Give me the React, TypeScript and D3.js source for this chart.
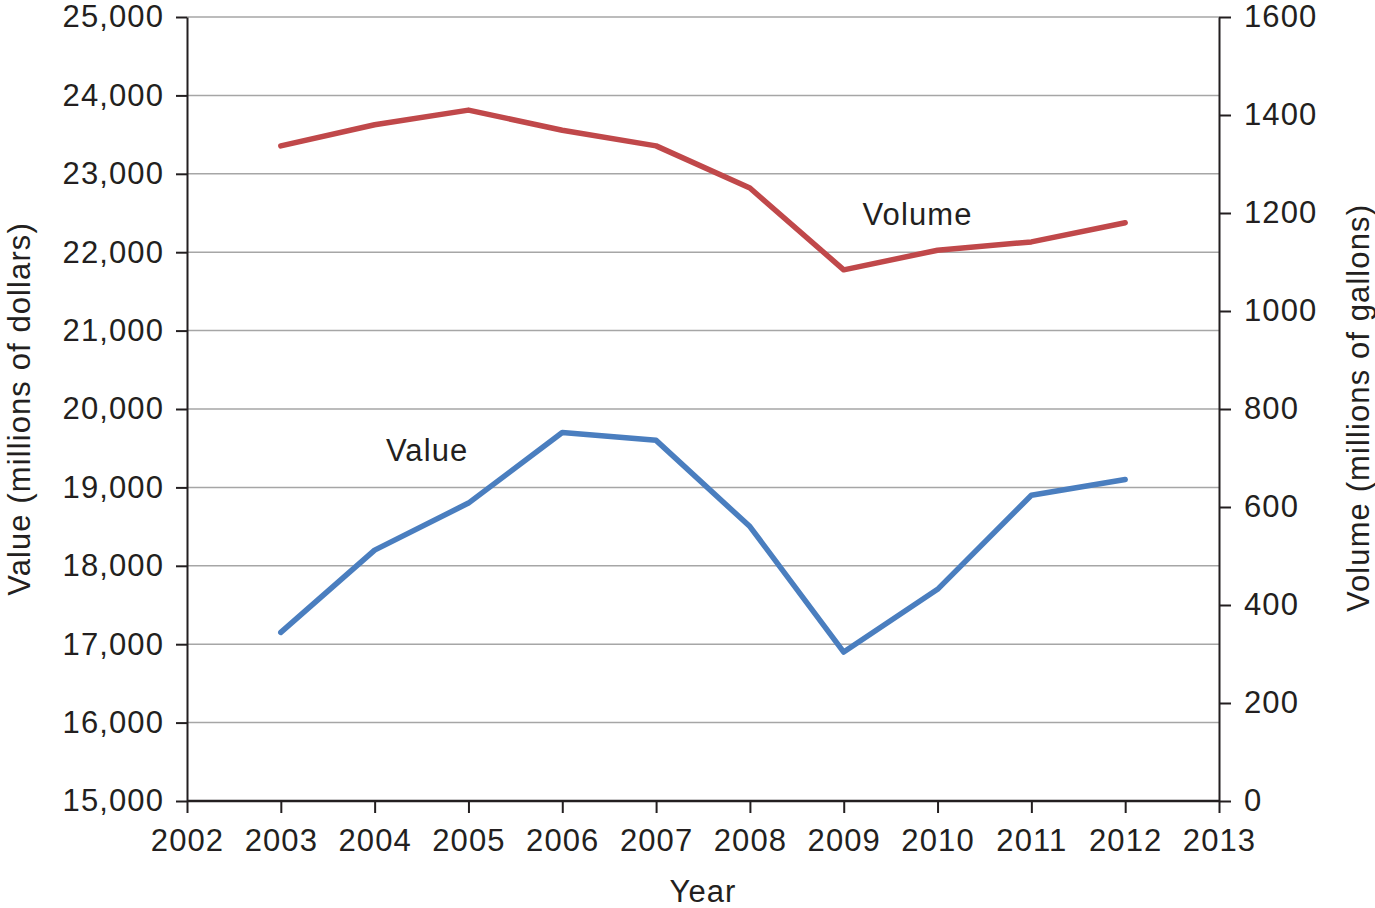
import { useRef, useEffect } from 'react';
import * as d3 from 'd3';

const years = [2003, 2004, 2005, 2006, 2007, 2008, 2009, 2010, 2011, 2012];
const valueSeries = [17150, 18200, 18800, 19700, 19600, 18500, 16900, 17700, 18900, 19100];
const volumeSeries = [1337, 1380, 1410, 1369, 1337, 1251, 1084, 1124, 1141, 1180];
const xTicks = d3.range(2002, 2014);
const valueTicks = d3.range(15000, 25001, 1000);
const volumeTicks = d3.range(0, 1601, 200);

const FONT = '"Liberation Sans", Arial, Helvetica, sans-serif';
const RED = '#c0484a';
const BLUE = '#4a7ebf';
const INK = '#231f20';

export default function App() {
  const svgRef = useRef<SVGSVGElement>(null);

  useEffect(() => {
    document.body.style.margin = '0';
    if (!svgRef.current) return;
    const svg = d3.select(svgRef.current);
    svg.selectAll('*').remove();

    const margin = { top: 17, right: 156, bottom: 107, left: 187 };
    const width = 1375;
    const height = 908;
    const w = width - margin.left - margin.right;
    const h = height - margin.top - margin.bottom;

    const g = svg.append('g').attr('transform', `translate(${margin.left},${margin.top})`);

    const x = d3.scaleLinear().domain([2002, 2013]).range([0, w]);
    const yVal = d3.scaleLinear().domain([15000, 25000]).range([h, 0]);
    const yVol = d3.scaleLinear().domain([0, 1600]).range([h, 0]);

    // gridlines
    g.append('g')
      .selectAll('line')
      .data(valueTicks.slice(1))
      .join('line')
      .attr('x1', 0)
      .attr('x2', w)
      .attr('y1', (d) => yVal(d))
      .attr('y2', (d) => yVal(d))
      .attr('stroke', '#a6a6a6')
      .attr('stroke-width', 1.5);

    const styleAxis = (sel: d3.Selection<SVGGElement, unknown, null, undefined>) => {
      sel.selectAll('text')
        .attr('fill', INK)
        .style('font-family', FONT)
        .style('font-size', '31px')
        .style('letter-spacing', '1.1px');
      sel.selectAll('line, path').attr('stroke', INK).attr('stroke-width', 2);
    };

    g.append('g')
      .attr('transform', `translate(0,${h})`)
      .call(d3.axisBottom(x).tickValues(xTicks).tickFormat(d3.format('d')).tickSize(12).tickSizeOuter(0).tickPadding(16))
      .call(styleAxis)
      .call((a) => a.select('.domain').remove());

    g.append('g')
      .call(d3.axisLeft(yVal).tickValues(valueTicks).tickFormat(d3.format(',')).tickSize(11).tickSizeOuter(0).tickPadding(12))
      .call(styleAxis);

    g.append('g')
      .attr('transform', `translate(${w},0)`)
      .call(d3.axisRight(yVol).tickValues(volumeTicks).tickFormat(d3.format('d')).tickSize(12).tickSizeOuter(0).tickPadding(13))
      .call(styleAxis);

    // bottom axis baseline
    g.append('line')
      .attr('x1', 0).attr('x2', w).attr('y1', h).attr('y2', h)
      .attr('stroke', INK).attr('stroke-width', 2.5);

    const lineVal = d3.line<number>().x((_, i) => x(years[i])).y((d) => yVal(d));
    const lineVol = d3.line<number>().x((_, i) => x(years[i])).y((d) => yVol(d));

    g.append('path')
      .datum(volumeSeries)
      .attr('d', lineVol)
      .attr('fill', 'none')
      .attr('stroke', RED)
      .attr('stroke-width', 5.5)
      .attr('stroke-linecap', 'round')
      .attr('stroke-linejoin', 'round');

    g.append('path')
      .datum(valueSeries)
      .attr('d', lineVal)
      .attr('fill', 'none')
      .attr('stroke', BLUE)
      .attr('stroke-width', 5.5)
      .attr('stroke-linecap', 'round')
      .attr('stroke-linejoin', 'round');

    const label = (sel: d3.Selection<SVGTextElement, unknown, null, undefined>) =>
      sel.attr('fill', INK)
        .style('font-family', FONT)
        .style('font-size', '31px')
        .style('letter-spacing', '1.1px');

    // series labels
    g.append('text').attr('x', x(2009.2)).attr('y', yVol(1175)).text('Volume').call(label);
    g.append('text').attr('x', x(2004.12)).attr('y', yVal(19337)).text('Value').call(label);

    // axis titles
    g.append('text')
      .attr('transform', `translate(${w + 150},${h / 2 - 1}) rotate(-90)`)
      .attr('text-anchor', 'middle')
      .text('Volume (millions of gallons)')
      .call(label);

    g.append('text')
      .attr('transform', `translate(${-157},${h / 2}) rotate(-90)`)
      .attr('text-anchor', 'middle')
      .text('Value (millions of dollars)')
      .call(label);

    g.append('text')
      .attr('x', x(2007.5))
      .attr('y', h + 101)
      .attr('text-anchor', 'middle')
      .text('Year')
      .call(label);
  }, []);

  return <svg ref={svgRef} width={1375} height={908} style={{ display: 'block', background: '#fff' }} />;
}
